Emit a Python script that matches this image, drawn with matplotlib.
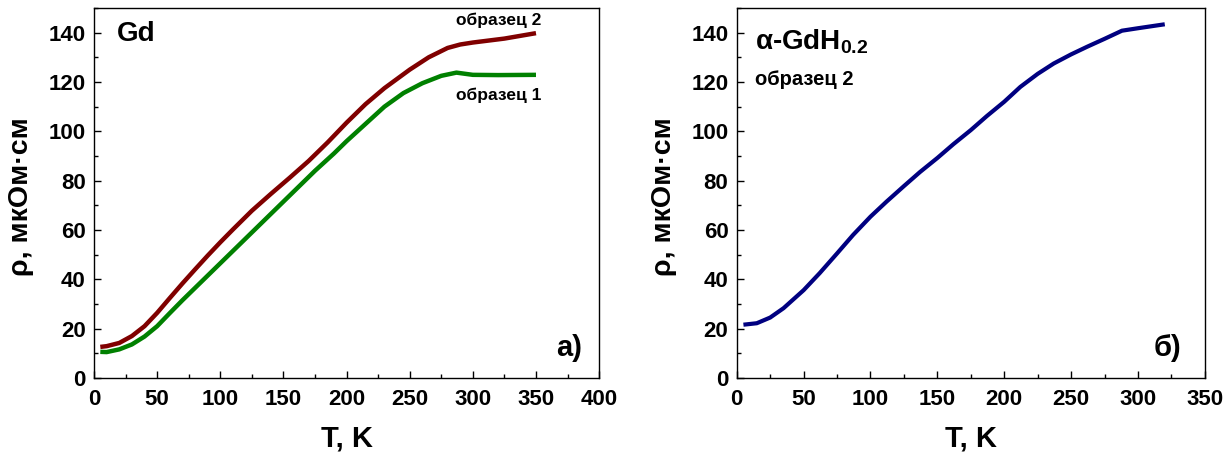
import matplotlib
matplotlib.use("Agg")
import matplotlib.pyplot as plt
from matplotlib.ticker import MultipleLocator

plt.rcParams['font.family'] = ['Liberation Sans', 'DejaVu Sans']
plt.rcParams['font.weight'] = 'bold'
plt.rcParams['mathtext.fontset'] = 'custom'
plt.rcParams['mathtext.rm'] = 'Liberation Sans:bold'
plt.rcParams['mathtext.bf'] = 'Liberation Sans:bold'
plt.rcParams['mathtext.it'] = 'Liberation Sans:bold'

# Gd, образец 2
t_gd2 = [5, 10, 20, 30, 40, 50, 60, 70, 80, 90, 100, 110, 125, 140, 155,
         170, 185, 200, 215, 230, 250, 265, 280, 290, 300, 325, 350]
rho_gd2 = [12.6, 12.9, 14.2, 17.0, 21.0, 26.4, 32.4, 38.3, 44.0, 49.6, 55.0,
           60.2, 67.8, 74.6, 81.2, 88.0, 95.5, 103.5, 111.0, 117.5, 125.0,
           130.0, 133.8, 135.2, 136.0, 137.6, 139.8]

# Gd, образец 1
t_gd1 = [5, 10, 20, 30, 40, 50, 60, 70, 80, 90, 100, 115, 130, 145, 160,
         175, 190, 200, 215, 230, 245, 260, 275, 287, 300, 320, 350]
rho_gd1 = [10.6, 10.5, 11.6, 13.6, 16.8, 21.0, 26.3, 31.5, 36.5, 41.5, 46.5,
           54.0, 61.5, 69.0, 76.5, 84.0, 91.0, 96.0, 103.0, 110.0, 115.5,
           119.5, 122.5, 123.8, 122.9, 122.8, 122.9]

# α-GdH0.2, образец 2
t_gdh = [5, 15, 25, 35, 50, 62, 75, 87, 100, 112, 125, 137, 150, 162, 175,
         187, 200, 212, 225, 237, 250, 262, 275, 288, 300, 310, 320]
rho_gdh = [21.6, 22.2, 24.5, 28.3, 35.6, 42.5, 50.5, 58.0, 65.4, 71.5, 77.8,
           83.5, 89.2, 94.8, 100.5, 106.2, 112.0, 118.0, 123.3, 127.5, 131.2,
           134.3, 137.5, 140.8, 141.8, 142.6, 143.4]

fig = plt.figure(figsize=(12.32, 4.57), dpi=100)
ax1 = fig.add_axes([0.0763, 0.1729, 0.41, 0.8096])
ax2 = fig.add_axes([0.598, 0.1729, 0.380, 0.8096])

ax1.plot(t_gd2, rho_gd2, color='#800000', lw=3.2, solid_capstyle='butt')
ax1.plot(t_gd1, rho_gd1, color='#008000', lw=3.2, solid_capstyle='butt')
ax2.plot(t_gdh, rho_gdh, color='#000080', lw=3.0, solid_capstyle='butt')

for ax, xmax in ((ax1, 400), (ax2, 350)):
    ax.set_xlim(0, xmax)
    ax.set_ylim(0, 150)
    ax.xaxis.set_major_locator(MultipleLocator(50))
    ax.xaxis.set_minor_locator(MultipleLocator(25))
    ax.yaxis.set_major_locator(MultipleLocator(20))
    ax.yaxis.set_minor_locator(MultipleLocator(10))
    ax.tick_params(which='both', direction='in', top=False, right=False,
                   labelsize=16, width=1)
    ax.tick_params(which='major', length=5)
    ax.tick_params(which='minor', length=3)
    ax.tick_params(axis='x', pad=8)
    ax.tick_params(axis='y', pad=6)
    for lab in ax.get_xticklabels() + ax.get_yticklabels():
        lab.set_fontweight('bold')
    for sp in ax.spines.values():
        sp.set_linewidth(1.0)
    ax.set_xlabel('T, K', fontsize=21, fontweight='bold')
    ax.set_ylabel('ρ, мкОм·см', fontsize=20.5, fontweight='bold')
    ax.xaxis.set_label_coords(0.5, -0.125)

ax1.yaxis.set_label_coords(-0.118, 0.49)
ax2.yaxis.set_label_coords(-0.127, 0.49)

ax1.text(18, 139.5, 'Gd', fontsize=20, fontweight='bold', va='center', ha='left')
ax1.text(287, 145, 'образец 2', fontsize=12.5, fontweight='bold', va='center', ha='left')
ax1.text(287, 114.5, 'образец 1', fontsize=12.5, fontweight='bold', va='center', ha='left')
ax1.text(366, 12, 'а)', fontsize=21, fontweight='bold', va='center', ha='left')

ax2.text(14, 136.5, 'α-GdH$_{0.2}$', fontsize=20, fontweight='bold', va='center', ha='left')
ax2.text(14, 121, 'образец 2', fontsize=14.5, fontweight='bold', va='center', ha='left')
ax2.text(312, 12, 'б)', fontsize=21, fontweight='bold', va='center', ha='left')

fig.savefig('out.png', dpi=100)
